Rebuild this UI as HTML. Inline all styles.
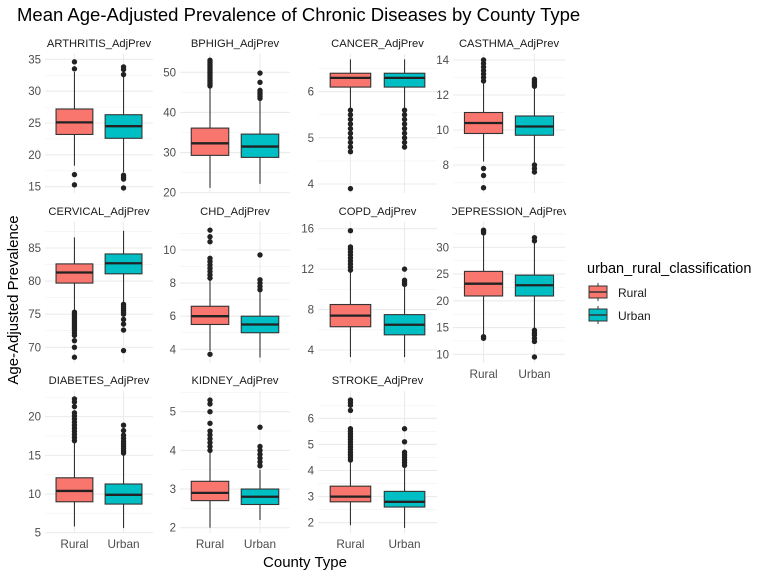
<!DOCTYPE html>
<html><head><meta charset="utf-8"><style>
html,body{margin:0;padding:0;background:#fff;}
svg{display:block;font-family:"Liberation Sans",sans-serif;}
</style></head><body>
<svg id="chart" width="768" height="576" viewBox="0 0 768 576" xmlns="http://www.w3.org/2000/svg">
<rect x="0" y="0" width="768" height="576" fill="#fff"/>
<text x="17" y="21" font-size="18.5" fill="#000">Mean Age-Adjusted Prevalence of Chronic Diseases by County Type</text>
<text x="0" y="0" transform="translate(18,300) rotate(-90)" text-anchor="middle" font-size="15" fill="#000">Age-Adjusted Prevalence</text>
<text x="305" y="567" text-anchor="middle" font-size="15" fill="#000">County Type</text>
<g>
<text x="587" y="273" font-size="14.5" fill="#000">urban_rural_classification</text>
<g>
<line x1="598" y1="283" x2="598" y2="301" stroke="#333" stroke-width="1"/>
<rect x="589" y="286" width="18" height="12" fill="#F8766D" stroke="#333" stroke-width="1"/>
<line x1="589" y1="292" x2="607" y2="292" stroke="#333" stroke-width="1.5"/>
<text x="618" y="297" font-size="12" fill="#1a1a1a">Rural</text>
</g>
<g>
<line x1="598" y1="306" x2="598" y2="324" stroke="#333" stroke-width="1"/>
<rect x="589" y="309" width="18" height="12" fill="#00BFC4" stroke="#333" stroke-width="1"/>
<line x1="589" y1="315" x2="607" y2="315" stroke="#333" stroke-width="1.5"/>
<text x="618" y="320" font-size="12" fill="#1a1a1a">Urban</text>
</g>
</g>
<g id="panels"></g>
</svg>
<script>
// ---- data ----
const panelNames = ["ARTHRITIS_AdjPrev","BPHIGH_AdjPrev","CANCER_AdjPrev","CASTHMA_AdjPrev","CERVICAL_AdjPrev","CHD_AdjPrev","COPD_AdjPrev","DEPRESSION_AdjPrev","DIABETES_AdjPrev","KIDNEY_AdjPrev","STROKE_AdjPrev"];
const categories = ["Rural","Urban"];
const panelTicks = [[15,20,25,30,35],[20,30,40,50],[4,5,6],[8,10,12,14],[70,75,80,85],[4,6,8,10],[4,8,12,16],[10,15,20,25,30],[5,10,15,20],[2,3,4,5],[2,3,4,5,6]];
// [lower whisker, q1, median, q3, upper whisker] per panel: rural, urban
const ruralStats = [[18.3,23.2,25.1,27.2,33.0],[21.2,29.3,32.3,36.1,46.3],[5.65,6.1,6.3,6.4,6.7],[8.2,9.8,10.4,11.0,12.7],[75.6,79.7,81.3,82.6,86.6],[3.9,5.5,6.0,6.6,8.2],[3.3,6.3,7.4,8.5,11.7],[13.8,20.9,23.2,25.5,32.5],[5.8,9.0,10.4,12.1,16.7],[2.0,2.7,2.9,3.2,3.95],[1.9,2.8,3.0,3.4,4.3]];
const urbanStats = [[17.3,22.6,24.5,26.3,32.3],[22.2,28.8,31.5,34.6,43.0],[5.65,6.1,6.3,6.4,6.7],[8.1,9.7,10.2,10.8,12.4],[76.8,81.1,82.7,84.1,87.6],[3.5,5.0,5.5,6.0,7.5],[3.3,5.5,6.5,7.5,10.3],[15.0,20.9,22.9,24.8,30.7],[5.6,8.7,9.9,11.3,15.1],[2.2,2.6,2.8,3.0,3.5],[1.8,2.6,2.8,3.2,4.1]];
const ruralOutliers = [
 [33.5,34.6,16.9,15.3],
 [46.6,47,47.5,48,48.5,49,49.5,50,50.5,51,51.5,52,52.5,53],
 [5.6,5.5,5.4,5.3,5.2,5.1,5.0,4.9,4.8,4.7,3.9],
 [12.8,13.0,13.2,13.4,13.6,13.8,14.0,7.8,7.4,6.7],
 [75.3,75.0,74.7,74.4,74.1,73.8,73.5,73.2,72.9,72.6,72.2,71.8,71.0,70.0,68.5],
 [8.3,8.5,8.7,8.9,9.1,9.3,9.5,10.5,10.8,11.2,3.7],
 [11.9,12.2,12.5,12.8,13.1,13.4,13.7,14.0,14.2,15.8],
 [32.7,33.0,33.2,13.0,13.3],
 [16.9,17.3,17.7,18.1,18.5,18.9,19.3,19.7,20.1,20.5,21.3,21.9,22.3],
 [4.0,4.1,4.2,4.3,4.4,4.5,4.7,5.0,5.2,5.3],
 [4.4,4.5,4.6,4.7,4.8,4.9,5.0,5.1,5.2,5.3,5.4,5.5,5.6,6.3,6.5,6.6,6.7]
];
const urbanOutliers = [
 [32.6,33.4,33.8,16.2,16.5,16.8,14.8],
 [43.5,44,44.5,45,45.5,47.5,49.8],
 [5.6,5.5,5.4,5.3,5.2,5.1,5.0,4.9,4.8],
 [12.5,12.6,12.7,12.8,12.9,8.0,7.8,7.6],
 [76.5,76.2,75.9,75.6,75.3,75.0,74.2,73.5,72.6,69.5],
 [7.6,7.8,8.0,8.2,9.7],
 [10.5,10.7,10.9,12.0],
 [31.2,31.8,14.5,14.0,13.6,13.0,12.4,9.5],
 [15.3,15.6,15.9,16.2,16.5,16.8,17.2,17.6,18.2,18.9],
 [3.6,3.7,3.8,3.9,4.0,4.1,4.6],
 [4.2,4.3,4.4,4.5,4.6,4.7,5.1,5.6]
];
// ---- layout (pixel geometry) ----
const colX = [[45,153],[180,290],[318,437],[453,565]];
const rowY = [[54,193],[222,363],[391,533]];
// calibration: [valueA, pixelA, valueB, pixelB]
const calib = [[35,59.3,15,186.7],[50,72.3,20,192.7],[6,91.7,4,184],[14,60,8,165],[85,248,70,347.3],[10,250,4,349.3],[16,228.7,4,350],[30,247.3,10,354.3],[20,416.7,5,532.7],[5,411.7,2,527.7],[6,418.3,2,522.7]];
const fills = ["#F8766D","#00BFC4"];
const NS = "http://www.w3.org/2000/svg";
const root = document.getElementById("panels");
function mk(tag, attrs, parent){const e=document.createElementNS(NS,tag);for(const k in attrs)e.setAttribute(k,attrs[k]);parent.appendChild(e);return e;}
function xScale(c,i){const [l,r]=colX[c];const t=(i+0.6)/2.2;return l+(r-l)*t;}
function yScaleFor(p){const [va,pa,vb,pb]=calib[p];return v=>pa+(v-va)*(pb-pa)/(vb-va);}

panelNames.forEach((name,p)=>{
  const c=p%4, r=Math.floor(p/4);
  const [x0,x1]=colX[c], [y0,y1]=rowY[r];
  const y=yScaleFor(p);
  const g=mk("g",{},root);
  
  
  const cp=mk("clipPath",{id:"clip"+p},g);
  mk("rect",{x:x0-1,y:y0-20,width:x1-x0+2,height:y1-y0+20},cp);
  const st=mk("text",{x:(x0+x1)/2,y:y0-7,"text-anchor":"middle","font-size":"11.2",fill:"#1a1a1a","clip-path":"url(#clip"+p+")"},g);
  st.textContent=name;
  
  
  const ticks=panelTicks[p];
  const step=ticks[1]-ticks[0];
  const minors=[ticks[0]-step/2].concat(ticks.map(t=>t+step/2));
  minors.forEach(m=>{const yy=y(m);if(yy>=y0&&yy<=y1){const l=mk("line",{x1:x0,x2:x1,y1:yy,y2:yy,stroke:"#f2f2f2","stroke-width":"0.6"},g);
    }});
  ticks.forEach(t=>{const yy=y(t);
    const l=mk("line",{x1:x0,x2:x1,y1:yy,y2:yy,stroke:"#ebebeb","stroke-width":"1.1"},g);
    
    
    const tx=mk("text",{x:x0-4,y:yy+4,"text-anchor":"end","font-size":"11.5",fill:"#4d4d4d"},g);
    tx.textContent=t;
    
    
  });
  categories.forEach((cat,i)=>{const xx=xScale(c,i);
    const l=mk("line",{x1:xx,x2:xx,y1:y0,y2:y1,stroke:"#ebebeb","stroke-width":"1.1"},g);
    
    
  });
  const halfW=0.375*(x1-x0)/2.2;
  categories.forEach((cat,i)=>{
    const s=(i===0?ruralStats:urbanStats)[p];
    const outs=(i===0?ruralOutliers:urbanOutliers)[p];
    const xx=xScale(c,i);
    const bg=mk("g",{},g);
    
    
    mk("line",{x1:xx,x2:xx,y1:y(s[0]),y2:y(s[1]),stroke:"#333","stroke-width":"1.1"},bg);
    mk("line",{x1:xx,x2:xx,y1:y(s[3]),y2:y(s[4]),stroke:"#333","stroke-width":"1.1"},bg);
    mk("rect",{x:xx-halfW,y:y(s[3]),width:2*halfW,height:y(s[1])-y(s[3]),fill:fills[i],stroke:"#333","stroke-width":"1.1"},bg);
    mk("line",{x1:xx-halfW,x2:xx+halfW,y1:y(s[2]),y2:y(s[2]),stroke:"#222","stroke-width":"2.3"},bg);
    outs.forEach(v=>{
      const o=mk("circle",{cx:xx,cy:y(v),r:"2.7",fill:"#222"},bg);
      
      
    });
    if(r===2 || (r===1 && c===3)){
      const lt=mk("text",{x:xx,y:y1+15,"text-anchor":"middle","font-size":"11.8",fill:"#4d4d4d"},g);
      lt.textContent=cat;
      
      
    }
  });
});
</script>
</body></html>
